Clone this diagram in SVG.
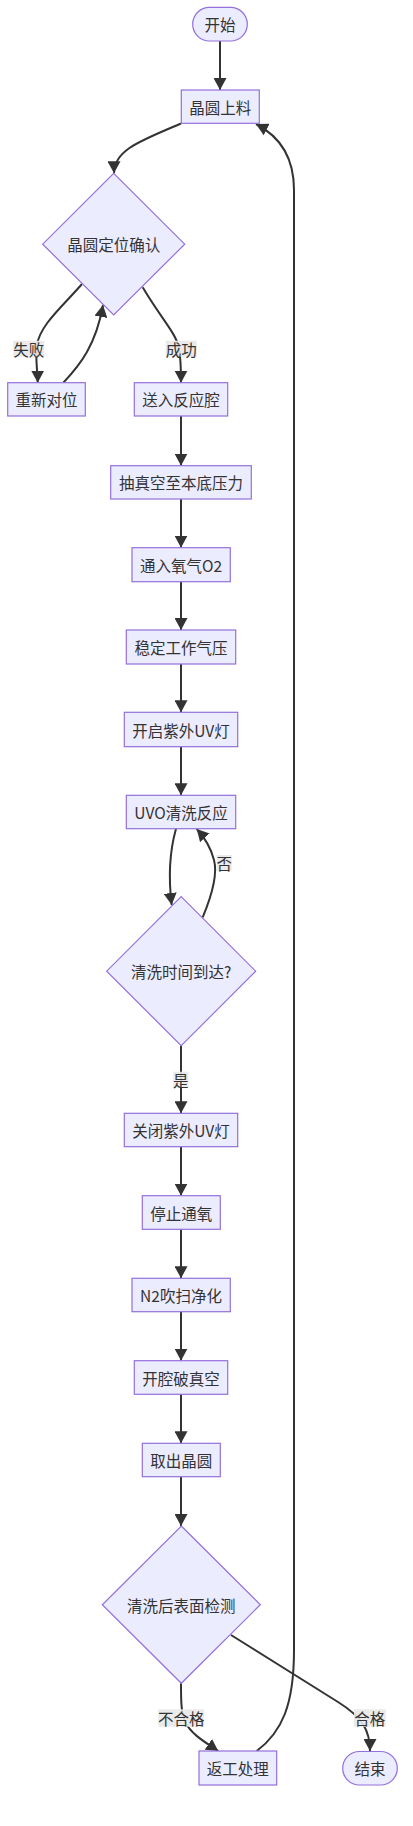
<svg xmlns="http://www.w3.org/2000/svg" width="413" height="1826" viewBox="0 0 413 1826">
<style>
.n{fill:#ECECFF;stroke:#9370DB;stroke-width:1.2}
.t{font-family:"Noto Sans CJK SC","Noto Sans",sans-serif;font-size:15.5px;fill:#333;text-anchor:middle;dominant-baseline:central}
.e{fill:none;stroke:#333;stroke-width:2}
.lb{fill:#e8e8e8;opacity:0.9}
</style>
<defs>
<marker id="ah" markerUnits="userSpaceOnUse" markerWidth="13" markerHeight="13" refX="12" refY="6.5" orient="auto" viewBox="0 0 13 13">
<path d="M0,0 L12,6.5 L0,13 z" fill="#333"/>
</marker>
</defs>
<rect width="413" height="1826" fill="#fff"/>
<g id="edges">
<path class="e" marker-end="url(#ah)" d="M220,41 L220,90"/>
<path class="e" marker-end="url(#ah)" d="M181,123.5 C140,141 114,150 114,173.3"/>
<path class="e" marker-end="url(#ah)" d="M82,284 C62,307 40,325 37,345 C35,360 37.7,370 37.7,382.7"/>
<path class="e" marker-end="url(#ah)" d="M63.3,382.7 C80,365 96,345 103,305"/>
<path class="e" marker-end="url(#ah)" d="M142.7,287.3 C160,317 176,333 179,348 C181,360 181,370 181,382.7"/>
<path class="e" marker-end="url(#ah)" d="M181,416 L181,465.7"/>
<path class="e" marker-end="url(#ah)" d="M181,499 L181,547.7"/>
<path class="e" marker-end="url(#ah)" d="M181,581.7 L181,630"/>
<path class="e" marker-end="url(#ah)" d="M181,664 L181,712.3"/>
<path class="e" marker-end="url(#ah)" d="M181,746.7 L181,795.3"/>
<path class="e" marker-end="url(#ah)" d="M176,828.7 C170,850 168,875 171.7,905"/>
<path class="e" marker-end="url(#ah)" d="M202.7,917.3 C212,895 218,875 214,860 C211,848 205,838 196.7,829"/>
<path class="e" marker-end="url(#ah)" d="M181,1045.7 L181,1113.3"/>
<path class="e" marker-end="url(#ah)" d="M181,1146.7 L181,1195.7"/>
<path class="e" marker-end="url(#ah)" d="M181,1229.3 L181,1278.3"/>
<path class="e" marker-end="url(#ah)" d="M181,1311.7 L181,1360.7"/>
<path class="e" marker-end="url(#ah)" d="M181,1394.3 L181,1443.3"/>
<path class="e" marker-end="url(#ah)" d="M181,1476.7 L181,1526"/>
<path class="e" marker-end="url(#ah)" d="M181,1683.3 C181,1700 181,1712 185,1722 C192,1735 205,1742 218.3,1751"/>
<path class="e" marker-end="url(#ah)" d="M231,1635 L338,1702 C362,1717 370,1730 370,1751"/>
<path class="e" marker-end="url(#ah)" d="M256.7,1751 C282,1732 294,1705 294,1650 L294,190 C294,160 283,138 256,124"/>
<rect class="lb" x="13.3" y="340.7" width="31" height="16"/>
<text class="t" x="28.8" y="348.5">失败</text>
<rect class="lb" x="165.7" y="340.7" width="31" height="16"/>
<text class="t" x="181.2" y="348.5">成功</text>
<rect class="lb" x="216.7" y="855" width="15" height="16"/>
<text class="t" x="224.2" y="862.8">否</text>
<rect class="lb" x="173.3" y="1071.7" width="15" height="16"/>
<text class="t" x="180.8" y="1079.5">是</text>
<rect class="lb" x="158.3" y="1709.3" width="45.7" height="17.4"/>
<text class="t" x="181.2" y="1718.2">不合格</text>
<rect class="lb" x="354" y="1709.3" width="31.7" height="17.4"/>
<text class="t" x="369.8" y="1718.2">合格</text>
</g>
<g id="start"><rect class="n" x="192.7" y="7.3" width="54.6" height="33.7" rx="16.8"/><text class="t" x="220" y="24.2">开始</text></g>
<g id="load"><rect class="n" x="181.3" y="90" width="78" height="33.3"/><text class="t" x="220.3" y="106.7">晶圆上料</text></g>
<g id="align"><polygon class="n" points="113.7,173.3 184.7,244.2 113.7,315 42.7,244.2"/><text class="t" x="113.7" y="244.2">晶圆定位确认</text></g>
<g id="realign"><rect class="n" x="7.7" y="382.7" width="77.6" height="33.3"/><text class="t" x="46.5" y="399.3">重新对位</text></g>
<g id="send"><rect class="n" x="134.3" y="382.7" width="93.4" height="33.3"/><text class="t" x="181" y="399.3">送入反应腔</text></g>
<g id="pump"><rect class="n" x="110.7" y="465.7" width="140.6" height="33.3"/><text class="t" x="181" y="482.3">抽真空至本底压力</text></g>
<g id="o2"><rect class="n" x="132" y="547.7" width="98.3" height="34"/><text class="t" x="181" y="564.7">通入氧气O2</text></g>
<g id="stable"><rect class="n" x="126.3" y="630" width="109.4" height="34"/><text class="t" x="181" y="647">稳定工作气压</text></g>
<g id="uvon"><rect class="n" x="124.3" y="712.3" width="113.4" height="34.4"/><text class="t" x="181" y="729.5">开启紫外UV灯</text></g>
<g id="uvo"><rect class="n" x="126.3" y="795.3" width="109.4" height="33.4"/><text class="t" x="181" y="812">UVO清洗反应</text></g>
<g id="timeq"><polygon class="n" points="181.2,896.7 255.7,971.2 181.2,1045.7 106.7,971.2"/><text class="t" x="181.2" y="971.2">清洗时间到达?</text></g>
<g id="uvoff"><rect class="n" x="124.3" y="1113.3" width="113.4" height="33.4"/><text class="t" x="181" y="1130">关闭紫外UV灯</text></g>
<g id="stopo2"><rect class="n" x="142.3" y="1195.7" width="78" height="33.6"/><text class="t" x="181.3" y="1212.5">停止通氧</text></g>
<g id="n2"><rect class="n" x="132" y="1278.3" width="98.3" height="33.4"/><text class="t" x="181" y="1295">N2吹扫净化</text></g>
<g id="vent"><rect class="n" x="134.3" y="1360.7" width="93.4" height="33.6"/><text class="t" x="181" y="1377.5">开腔破真空</text></g>
<g id="unload"><rect class="n" x="142.3" y="1443.3" width="78" height="33.4"/><text class="t" x="181.3" y="1460">取出晶圆</text></g>
<g id="inspect"><polygon class="n" points="181.3,1526 260.3,1604.7 181.3,1683.3 102.3,1604.7"/><text class="t" x="181.3" y="1604.7">清洗后表面检测</text></g>
<g id="rework"><rect class="n" x="199" y="1751" width="77.7" height="34"/><text class="t" x="237.8" y="1768">返工处理</text></g>
<g id="end"><rect class="n" x="342.7" y="1751.5" width="54.6" height="33.5" rx="16.7"/><text class="t" x="370" y="1768.2">结束</text></g>
</svg>
